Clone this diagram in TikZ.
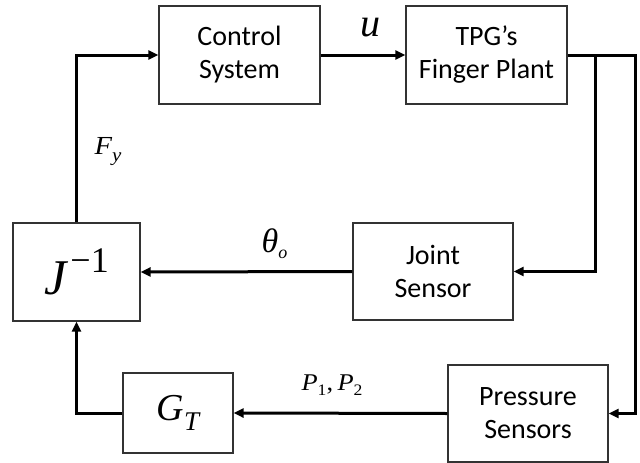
\documentclass[tikz,border=0pt]{standalone}
\usepackage{fontspec}
\setmainfont{Carlito}
\newfontfamily\tms{Liberation Serif}
\usetikzlibrary{arrows.meta}
\begin{document}
\begin{tikzpicture}[x=1pt,y=-1pt,
  blk/.style={draw=black!80, line width=1.2pt, inner sep=0pt, align=center,
    font=\fontsize{28}{33}\selectfont},
  sig/.style={line width=3pt, -{Triangle[length=10pt,width=9pt]}},
  lbl/.style={inner sep=0pt, font=\tms\itshape}]
\useasboundingbox (0,0) rectangle (640,463);

\node[blk, minimum width=161pt, minimum height=98pt] (ctrl) at (239.5,55) {Control\\System};
\node[blk, minimum width=161pt, minimum height=98pt] (tpg) at (486.5,55) {TPG’s\\Finger Plant};
\node[blk, minimum width=160pt, minimum height=97pt] (joint) at (433,271.5) {Joint\\Sensor};
\node[blk, minimum width=160pt, minimum height=97pt] (press) at (528,413.5) {Pressure\\Sensors};
\node[blk, minimum width=127pt, minimum height=98pt] (jinv) at (76.5,272)
  {{\tms\itshape\fontsize{50}{50}\selectfont J}\hspace{4pt}\raisebox{22pt}{\tms\fontsize{36}{36}\selectfont −1}};
\node[blk, minimum width=110pt, minimum height=80pt] (gt) at (178,413)
  {{\tms\itshape\fontsize{38}{38}\selectfont G}\raisebox{-10pt}{\tms\itshape\fontsize{27}{27}\selectfont T}};

\coordinate (s1) at (595,55);
\coordinate (s2) at (635,55);

\draw[sig] (ctrl.east) -- (tpg.west);
\draw[sig] (tpg.east) -- (s2) |- (press.east);
\draw[sig] (s1) |- (joint.east);
\draw[sig] (joint.west) -- (jinv.east);
\draw[sig] (press.west) -- (gt.east);
\draw[sig] (gt.west) -| (jinv.south);
\draw[sig] (jinv.north) |- (ctrl.west);

\node[lbl, font=\tms\itshape\fontsize{40}{40}\selectfont] (lu) at (370,28) {u};
\node[lbl] (lth) at (274.5,244)
  {{\fontsize{34}{34}\selectfont θ}\raisebox{-6pt}{\fontsize{18}{18}\selectfont o}};
\node[lbl] (lfy) at (108,152)
  {\scalebox{1.1}[1]{{\fontsize{26}{26}\selectfont F}\raisebox{-7pt}{\fontsize{19}{19}\selectfont y}}};
\node[lbl] (lp) at (332,385)
  {\scalebox{1.1}[1]{\fontsize{24}{24}\selectfont P\raisebox{-5pt}{\upshape\fontsize{16}{16}\selectfont 1}{\upshape,}\,P\raisebox{-5pt}{\upshape\fontsize{16}{16}\selectfont 2}}};
\end{tikzpicture}
\end{document}
